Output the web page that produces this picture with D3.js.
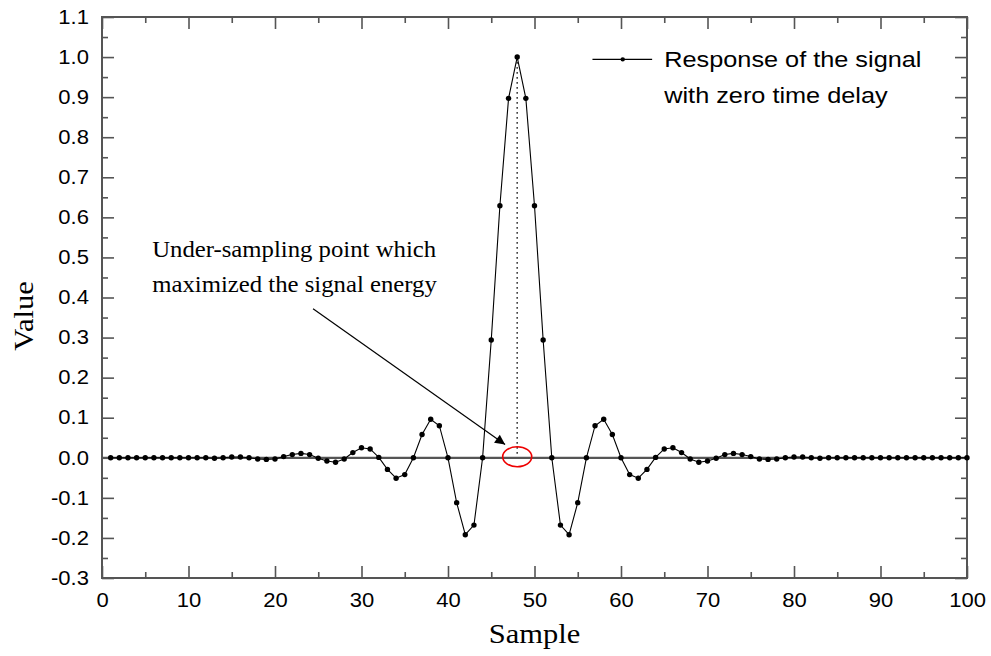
<!DOCTYPE html>
<html>
<head>
<meta charset="utf-8">
<script src="https://cdn.jsdelivr.net/npm/d3@7"></script>
<style>
  body { margin: 0; background: #fff; }
</style>
</head>
<body>
<div id="chart"></div>
<script>
var svgWidth = 991;
var svgHeight = 656;

var margin = { top: 17, right: 24, bottom: 78, left: 102 };
var width = svgWidth - margin.left - margin.right;
var height = svgHeight - margin.top - margin.bottom;

// samples 1..100
var samples = d3.range(1, 101);
var values = [
    0, 0, 0, 0, 0, 0, 0, 0, 0, 0,
    0, 0, -0.001, 0, 0.002, 0.002, 0, -0.003, -0.004, -0.003,
    0.003, 0.008, 0.011, 0.008, -0.001, -0.008, -0.011, -0.003, 0.013, 0.025,
    0.022, 0.001, -0.029, -0.051, -0.042, 0, 0.058, 0.096, 0.080, 0,
    -0.112, -0.192, -0.168, 0, 0.294, 0.629, 0.897, 1.0, 0.897, 0.629,
    0.294, 0, -0.168, -0.192, -0.112, 0, 0.080, 0.096, 0.058, 0,
    -0.042, -0.051, -0.029, 0.001, 0.022, 0.025, 0.013, -0.003, -0.011, -0.008,
    -0.001, 0.008, 0.011, 0.008, 0.003, -0.003, -0.004, -0.003, 0, 0.002,
    0.002, 0, -0.001, 0, 0, 0, 0, 0, 0, 0,
    0, 0, 0, 0, 0, 0, 0, 0, 0, 0
];
var xTicks = d3.range(0, 101, 10);
var yTicks = [-0.3, -0.2, -0.1, 0, 0.1, 0.2, 0.3, 0.4, 0.5, 0.6, 0.7, 0.8, 0.9, 1.0, 1.1];
var peakSample = 48;
var legendLines = ["Response of the signal", "with zero time delay"];
var noteLines = ["Under-sampling point which", "maximized the signal energy"];

var data = samples.map(function (s, i) { return { x: s, y: values[i] }; });

var sansFont = "'Liberation Sans', Arial, sans-serif";
var serifFont = "'Liberation Serif', 'Times New Roman', serif";
var stretch = 1.13;   // the original's text is a bit wider than plain Arial/Times

// widen text horizontally around its own anchor point
function widen(sel, k) {
    k = k || stretch;
    sel.each(function () {
        var t = d3.select(this);
        var x = +t.attr("x") || 0;
        var y = +t.attr("y") || 0;
        t.attr("x", 0).attr("y", 0)
            .attr("transform", `translate(${x}, ${y}) scale(${k}, 1)`);
    });
}

var svg = d3.select("#chart")
    .append("svg")
    .attr("width", svgWidth)
    .attr("height", svgHeight);

svg.append("defs").append("marker")
    .attr("id", "arrow")
    .attr("viewBox", "0 0 10 10")
    .attr("refX", 10)
    .attr("refY", 5)
    .attr("markerWidth", 16)
    .attr("markerHeight", 10)
    .attr("markerUnits", "userSpaceOnUse")
    .attr("orient", "auto")
    .append("path")
    .attr("d", "M0,0 L10,5 L0,10 Z")
    .attr("fill", "#000");

var chartGroup = svg.append("g")
    .attr("transform", `translate(${margin.left}, ${margin.top})`);

var xScale = d3.scaleLinear().domain([0, 100]).range([0, width]);
var yScale = d3.scaleLinear().domain([-0.3, 1.1]).range([height, 0]);

var axisColor = "#555";

// minor + major ticks, inward, on all four sides
function tickLayer(axis, transform) {
    var g = chartGroup.append("g").attr("transform", transform).call(axis);
    g.select(".domain").remove();
    g.selectAll(".tick line").attr("stroke", axisColor).attr("stroke-width", 1.6);
    g.selectAll(".tick text")
        .attr("font-family", sansFont)
        .attr("font-size", "19.5px")
        .attr("fill", "#000")
        .call(widen);
    return g;
}

var xMinor = d3.range(5, 100, 10);
var yMinor = d3.range(-0.25, 1.1, 0.1);

tickLayer(d3.axisBottom(xScale).tickValues(xTicks).tickSize(-12).tickPadding(15).tickFormat(d => d),
    `translate(0, ${height})`);
tickLayer(d3.axisBottom(xScale).tickValues(xMinor).tickSize(-6).tickFormat(""),
    `translate(0, ${height})`);
tickLayer(d3.axisTop(xScale).tickValues(xTicks).tickSize(-12).tickFormat(""), "translate(0,0)");
tickLayer(d3.axisTop(xScale).tickValues(xMinor).tickSize(-6).tickFormat(""), "translate(0,0)");

tickLayer(d3.axisLeft(yScale).tickValues(yTicks).tickSize(-12).tickPadding(13).tickFormat(d => d.toFixed(1)),
    "translate(0,0)");
tickLayer(d3.axisLeft(yScale).tickValues(yMinor).tickSize(-6).tickFormat(""), "translate(0,0)");
tickLayer(d3.axisRight(yScale).tickValues(yTicks).tickSize(-12).tickFormat(""), `translate(${width},0)`);
tickLayer(d3.axisRight(yScale).tickValues(yMinor).tickSize(-6).tickFormat(""), `translate(${width},0)`);

// frame
chartGroup.append("rect")
    .attr("width", width)
    .attr("height", height)
    .attr("fill", "none")
    .attr("stroke", axisColor)
    .attr("stroke-width", 2);

// zero line
chartGroup.append("line")
    .attr("x1", xScale(0))
    .attr("x2", xScale(100))
    .attr("y1", yScale(0))
    .attr("y2", yScale(0))
    .attr("stroke", axisColor)
    .attr("stroke-width", 2.2);

// dotted line under the peak
chartGroup.append("line")
    .attr("x1", xScale(peakSample))
    .attr("x2", xScale(peakSample))
    .attr("y1", yScale(1.0))
    .attr("y2", yScale(0.01))
    .attr("stroke", "#444")
    .attr("stroke-width", 1.6)
    .attr("stroke-dasharray", "1.6,3.4");

var line = d3.line().x(d => xScale(d.x)).y(d => yScale(d.y));

chartGroup.append("path")
    .datum(data)
    .attr("d", line)
    .attr("fill", "none")
    .attr("stroke", "#000")
    .attr("stroke-width", 1.1);

chartGroup.selectAll("circle.pt")
    .data(data)
    .enter()
    .append("circle")
    .classed("pt", true)
    .attr("r", 2.7)
    .attr("cx", d => xScale(d.x))
    .attr("cy", d => yScale(d.y))
    .attr("fill", "#000");

// red ellipse at the under-sampling point
chartGroup.append("ellipse")
    .attr("cx", xScale(peakSample))
    .attr("cy", yScale(0) - 1)
    .attr("rx", 14.5)
    .attr("ry", 10)
    .attr("fill", "none")
    .attr("stroke", "#e00")
    .attr("stroke-width", 1.6);

// annotation
chartGroup.selectAll("text.note")
    .data(noteLines)
    .enter()
    .append("text")
    .classed("note", true)
    .attr("x", xScale(5.8))
    .attr("y", (d, i) => yScale(0.5) + i * 34.5)
    .attr("font-family", serifFont)
    .attr("font-size", "22.5px")
    .attr("fill", "#000")
    .text(d => d)
    .call(widen, 1.1);

chartGroup.append("line")
    .attr("x1", xScale(24.4))
    .attr("y1", yScale(0.372))
    .attr("x2", xScale(46.6))
    .attr("y2", yScale(0.033))
    .attr("stroke", "#000")
    .attr("stroke-width", 1.2)
    .attr("marker-end", "url(#arrow)");

// legend
var legend = chartGroup.append("g");
var legY = yScale(1.0) + 2.3;
legend.append("line")
    .attr("x1", xScale(56.7)).attr("x2", xScale(63.6))
    .attr("y1", legY).attr("y2", legY)
    .attr("stroke", "#000").attr("stroke-width", 1.1);
legend.append("circle")
    .attr("cx", xScale(60.2)).attr("cy", legY).attr("r", 2.2).attr("fill", "#000");
legend.selectAll("text")
    .data(legendLines)
    .enter()
    .append("text")
    .attr("x", xScale(65))
    .attr("y", (d, i) => legY + 8 + i * 35.5)
    .attr("font-family", sansFont)
    .attr("font-size", "22px")
    .attr("fill", "#000")
    .text(d => d)
    .call(widen, 1.15);

// axis titles
svg.append("text")
    .attr("x", margin.left + width / 2)
    .attr("y", 643)
    .attr("text-anchor", "middle")
    .attr("font-family", serifFont)
    .attr("font-size", "27px")
    .text("Sample")
    .call(widen);

svg.append("text")
    .attr("transform", `translate(33, 316) rotate(-90) scale(${stretch}, 1)`)
    .attr("text-anchor", "middle")
    .attr("font-family", serifFont)
    .attr("font-size", "27px")
    .text("Value");
</script>
</body>
</html>
